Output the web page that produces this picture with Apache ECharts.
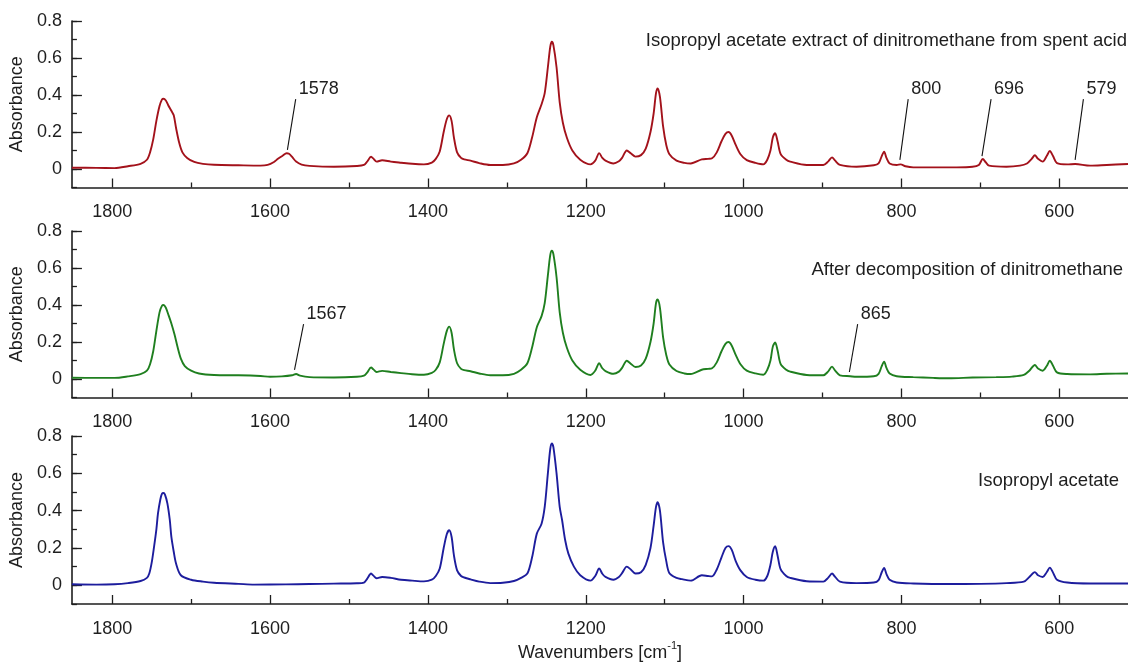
<!DOCTYPE html>
<html>
<head>
<meta charset="utf-8">
<script src="https://cdn.jsdelivr.net/npm/echarts@6/dist/echarts.min.js"></script>
<style>html,body{margin:0;padding:0;background:#fff}#chart{width:1128px;height:663px}</style>
</head>
<body>
<div id="chart"></div>
<script>
// ---- data: [wavenumber (cm-1), absorbance] ----
const spentAcidExtract = [[1851,0.007],[1820,0.006],[1797,0.005],[1780,0.015],[1764,0.028],[1756,0.05],[1752,0.09],[1748,0.16],[1744,0.26],[1740,0.34],[1737,0.375],[1735,0.38],[1732,0.37],[1729,0.345],[1725,0.315],[1722,0.29],[1719,0.22],[1715,0.14],[1711,0.09],[1705,0.06],[1696,0.038],[1685,0.028],[1671,0.023],[1640,0.02],[1612,0.018],[1603,0.022],[1595,0.038],[1590,0.055],[1584,0.072],[1579,0.085],[1576,0.082],[1572,0.065],[1567,0.04],[1560,0.024],[1550,0.017],[1519,0.012],[1490,0.016],[1481,0.022],[1477,0.04],[1472,0.066],[1469,0.056],[1465,0.04],[1458,0.047],[1447,0.04],[1434,0.034],[1420,0.028],[1405,0.025],[1395,0.035],[1390,0.055],[1385,0.095],[1380,0.2],[1376,0.27],[1373,0.29],[1370,0.26],[1367,0.17],[1363,0.09],[1358,0.06],[1354,0.052],[1346,0.045],[1335,0.032],[1321,0.022],[1305,0.022],[1291,0.03],[1282,0.05],[1274,0.085],[1268,0.17],[1262,0.28],[1256,0.35],[1252,0.41],[1248,0.55],[1245,0.66],[1243,0.688],[1241,0.67],[1237,0.55],[1233,0.36],[1229,0.25],[1224,0.17],[1217,0.1],[1207,0.05],[1194,0.025],[1188,0.045],[1183,0.086],[1179,0.06],[1175,0.045],[1165,0.03],[1158,0.042],[1154,0.06],[1148,0.1],[1143,0.085],[1137,0.067],[1130,0.075],[1124,0.11],[1118,0.2],[1114,0.3],[1111,0.41],[1109,0.436],[1106,0.39],[1102,0.23],[1098,0.13],[1094,0.08],[1085,0.045],[1075,0.033],[1067,0.03],[1053,0.052],[1045,0.055],[1040,0.058],[1034,0.09],[1028,0.15],[1023,0.19],[1019,0.2],[1015,0.18],[1010,0.13],[1004,0.08],[996,0.048],[985,0.033],[975,0.025],[970,0.05],[966,0.1],[963,0.17],[960,0.193],[957,0.15],[953,0.08],[946,0.05],[941,0.04],[920,0.022],[899,0.022],[893,0.04],[888,0.063],[884,0.045],[878,0.022],[857,0.012],[835,0.02],[829,0.03],[825,0.07],[822,0.094],[819,0.06],[815,0.03],[806,0.022],[801,0.025],[795,0.015],[785,0.009],[730,0.009],[710,0.012],[702,0.022],[697,0.054],[693,0.035],[689,0.018],[667,0.012],[650,0.018],[641,0.03],[635,0.055],[631,0.074],[627,0.055],[621,0.04],[616,0.07],[612,0.097],[608,0.07],[603,0.032],[590,0.025],[580,0.027],[561,0.018],[540,0.022],[513,0.027]];

const afterDecomposition = [[1851,0.007],[1820,0.006],[1797,0.006],[1780,0.014],[1764,0.026],[1756,0.045],[1752,0.08],[1748,0.15],[1744,0.26],[1740,0.36],[1737,0.395],[1735,0.40],[1732,0.385],[1729,0.35],[1725,0.3],[1721,0.24],[1717,0.17],[1713,0.11],[1708,0.07],[1700,0.045],[1690,0.03],[1671,0.022],[1640,0.02],[1612,0.016],[1600,0.012],[1585,0.014],[1572,0.02],[1567,0.027],[1562,0.018],[1550,0.01],[1519,0.008],[1490,0.012],[1481,0.018],[1477,0.035],[1472,0.062],[1469,0.052],[1465,0.038],[1458,0.044],[1447,0.038],[1434,0.032],[1420,0.026],[1405,0.023],[1395,0.033],[1390,0.05],[1385,0.09],[1380,0.19],[1376,0.26],[1373,0.283],[1370,0.25],[1367,0.16],[1363,0.085],[1358,0.055],[1354,0.048],[1346,0.042],[1335,0.03],[1321,0.02],[1305,0.02],[1291,0.028],[1282,0.05],[1274,0.085],[1268,0.17],[1262,0.28],[1256,0.34],[1252,0.41],[1248,0.56],[1245,0.67],[1243,0.694],[1241,0.675],[1237,0.55],[1233,0.36],[1229,0.25],[1224,0.17],[1217,0.1],[1207,0.05],[1194,0.022],[1188,0.045],[1183,0.085],[1179,0.058],[1175,0.043],[1165,0.028],[1158,0.04],[1154,0.06],[1148,0.099],[1143,0.083],[1137,0.065],[1130,0.073],[1124,0.11],[1118,0.2],[1114,0.3],[1111,0.41],[1109,0.43],[1106,0.385],[1102,0.225],[1098,0.13],[1094,0.078],[1085,0.043],[1075,0.03],[1067,0.027],[1053,0.05],[1045,0.055],[1040,0.058],[1034,0.09],[1028,0.15],[1023,0.19],[1019,0.2],[1015,0.18],[1010,0.13],[1004,0.08],[996,0.045],[985,0.03],[975,0.023],[970,0.05],[966,0.1],[963,0.175],[960,0.198],[957,0.155],[953,0.08],[946,0.05],[941,0.04],[920,0.022],[899,0.02],[893,0.04],[888,0.067],[884,0.045],[878,0.02],[865,0.015],[857,0.012],[835,0.015],[829,0.028],[825,0.07],[822,0.094],[819,0.06],[815,0.03],[806,0.015],[785,0.01],[760,0.006],[740,0.004],[710,0.008],[680,0.01],[660,0.013],[645,0.022],[638,0.045],[631,0.076],[627,0.057],[621,0.045],[616,0.07],[612,0.099],[608,0.072],[603,0.036],[590,0.027],[561,0.025],[540,0.028],[513,0.03]];

const isopropylAcetate = [[1851,0.006],[1820,0.004],[1797,0.006],[1780,0.012],[1764,0.023],[1756,0.04],[1753,0.063],[1750,0.12],[1747,0.205],[1744,0.3],[1742,0.384],[1739,0.46],[1737,0.49],[1735,0.495],[1733,0.485],[1730,0.438],[1727,0.35],[1725,0.259],[1722,0.18],[1719,0.116],[1713,0.054],[1700,0.03],[1685,0.02],[1671,0.014],[1640,0.008],[1620,0.004],[1580,0.005],[1550,0.007],[1519,0.009],[1490,0.011],[1481,0.015],[1477,0.035],[1472,0.063],[1469,0.052],[1465,0.038],[1458,0.045],[1447,0.04],[1434,0.03],[1420,0.025],[1405,0.021],[1395,0.03],[1390,0.05],[1385,0.09],[1380,0.2],[1376,0.275],[1373,0.295],[1370,0.26],[1367,0.16],[1363,0.08],[1358,0.05],[1354,0.042],[1346,0.032],[1335,0.02],[1321,0.012],[1305,0.014],[1291,0.023],[1282,0.04],[1274,0.063],[1268,0.15],[1262,0.277],[1256,0.33],[1252,0.42],[1248,0.6],[1245,0.73],[1243,0.76],[1241,0.74],[1237,0.6],[1233,0.42],[1230,0.35],[1226,0.24],[1222,0.17],[1215,0.1],[1207,0.054],[1194,0.025],[1188,0.05],[1183,0.09],[1179,0.062],[1175,0.045],[1165,0.03],[1158,0.045],[1154,0.065],[1148,0.1],[1143,0.085],[1137,0.063],[1130,0.07],[1124,0.11],[1118,0.2],[1114,0.32],[1111,0.42],[1109,0.446],[1106,0.4],[1102,0.23],[1098,0.13],[1094,0.065],[1085,0.04],[1078,0.033],[1067,0.025],[1053,0.054],[1045,0.05],[1040,0.048],[1034,0.085],[1028,0.15],[1023,0.2],[1019,0.21],[1015,0.19],[1010,0.13],[1004,0.08],[996,0.045],[985,0.03],[975,0.025],[970,0.05],[966,0.11],[963,0.18],[960,0.209],[957,0.16],[953,0.085],[946,0.05],[941,0.04],[920,0.022],[899,0.02],[893,0.04],[888,0.063],[884,0.045],[878,0.02],[857,0.012],[835,0.015],[829,0.028],[825,0.07],[822,0.093],[819,0.06],[815,0.03],[806,0.015],[785,0.01],[740,0.007],[700,0.008],[667,0.012],[645,0.02],[638,0.045],[631,0.071],[627,0.054],[621,0.045],[616,0.07],[612,0.095],[608,0.068],[603,0.03],[590,0.015],[561,0.01],[540,0.01],[513,0.01]];

const panelTitles = ['Isopropyl acetate extract of dinitromethane from spent acid', 'After decomposition of dinitromethane', 'Isopropyl acetate'];

// peak annotations: [label, peak wavenumber, absorbance at line foot, wavenumber at line top, absorbance at line top]
const annotationsSpent = [['1578',1578,0.103,1567.5,0.378],['800',802,0.049,791.5,0.378],['696',698,0.07,686.5,0.378],['579',580,0.049,569.5,0.378]];
const annotationsAfter = [['1567',1569,0.049,1557.5,0.297],['865',866,0.038,855.5,0.297]];
const annotationsIso = [];

const xMajorTicks = [1800,1600,1400,1200,1000,800,600];
const xMinorTicks = [1700,1500,1300,1100,900,700];
const yTickLabels = [0,0.2,0.4,0.6,0.8];
const xRange = [513, 1851];
const yRange = [-0.1, 0.8];

// ---- chart ----
const FONT = 'Liberation Sans';
const FS = 18;
const TXT = '#1e1e1e';
const panels = [
  {data: spentAcidExtract, color: '#a3121b', ann: annotationsSpent},
  {data: afterDecomposition, color: '#1f7f1f', ann: annotationsAfter},
  {data: isopropylAcetate, color: '#1d1d9d', ann: annotationsIso}
];
const gridTops = [21, 231, 436];
const gridHeights = [166.5, 166.5, 168];
const titleTops = [31, 260, 471];
const titleRights = [1, 5, 9];

const grid = [], xAxis = [], yAxis = [], series = [], title = [];
const axisLineStyle = {color: TXT, width: 1.6};
panels.forEach((p, i) => {
  grid.push({left: 71, right: 0, top: gridTops[i], height: gridHeights[i]});
  const main = {
    gridIndex: i, type: 'value', inverse: true, min: xRange[0], max: xRange[1], position: 'bottom',
    axisLine: {show: true, onZero: false, lineStyle: axisLineStyle},
    axisTick: {show: true, inside: true, length: 9, customValues: xMajorTicks, lineStyle: {color: TXT, width: 1.3}},
    axisLabel: {customValues: xMajorTicks, fontSize: FS, fontFamily: FONT, color: TXT, margin: 16,
      formatter: v => String(v)},
    splitLine: {show: false}
  };
  if (i === 2) {
    main.name = '{a|Wavenumbers [cm}{s|-1}{a|]}';
    main.nameLocation = 'middle';
    main.nameGap = 36;
    main.nameTextStyle = {
      rich: {
        a: {fontSize: FS, fontFamily: FONT, color: TXT, lineHeight: 22, verticalAlign: 'bottom'},
        s: {fontSize: 11, fontFamily: FONT, color: TXT, lineHeight: 22, verticalAlign: 'top'}
      }
    };
  }
  xAxis.push(main);
  xAxis.push({
    gridIndex: i, type: 'value', inverse: true, min: xRange[0], max: xRange[1], position: 'bottom',
    axisLine: {show: false, onZero: false},
    axisTick: {show: true, inside: true, length: 5, customValues: xMinorTicks, lineStyle: {color: TXT, width: 1.3}},
    axisLabel: {show: false}, splitLine: {show: false}
  });
  yAxis.push({
    gridIndex: i, type: 'value', min: yRange[0], max: yRange[1], interval: 0.1, position: 'left',
    axisLine: {show: true, onZero: false, lineStyle: axisLineStyle},
    axisTick: {show: true, inside: true, length: 5, lineStyle: {color: TXT, width: 1.3}},
    axisLabel: {customValues: yTickLabels, fontSize: FS, fontFamily: FONT, color: TXT, margin: 10,
      formatter: v => (Math.abs(v) < 1e-9 ? '0' : v.toFixed(1))},
    splitLine: {show: false},
    name: 'Absorbance', nameLocation: 'middle', nameGap: 42,
    nameTextStyle: {fontSize: FS, fontFamily: FONT, color: TXT}
  });
  yAxis.push({
    gridIndex: i, type: 'value', min: yRange[0], max: yRange[1], position: 'left',
    axisLine: {show: false, onZero: false},
    axisTick: {show: true, inside: true, length: 10, customValues: yTickLabels, lineStyle: {color: TXT, width: 1.3}},
    axisLabel: {show: false}, splitLine: {show: false}
  });
  series.push({
    type: 'line', xAxisIndex: 2 * i, yAxisIndex: 2 * i, data: p.data,
    showSymbol: false, smooth: 0.3,
    lineStyle: {color: p.color, width: 1.9}, itemStyle: {color: p.color},
    silent: true,
    markLine: {
      silent: true, symbol: ['none', 'none'], animation: false,
      lineStyle: {color: '#111', width: 1.1, type: 'solid'},
      label: {show: false},
      data: p.ann.map(a => [{coord: [a[1], a[2]]}, {coord: [a[3], a[4]]}])
    },
    markPoint: {
      silent: true, symbol: 'circle', symbolSize: 0, animation: false,
      data: p.ann.map(a => ({coord: [a[3], a[4]], value: a[0],
        label: {show: true, position: 'right', distance: 3, offset: [0, -10], formatter: a[0],
          fontSize: FS, fontFamily: FONT, color: TXT}}))
    }
  });
  title.push({text: panelTitles[i], right: titleRights[i], top: titleTops[i], padding: 0,
    textStyle: {fontSize: 18.5, fontWeight: 'normal', fontFamily: FONT, color: TXT}});
});

const chart = echarts.init(document.getElementById('chart'), null, {renderer: 'canvas'});
chart.setOption({animation: false, backgroundColor: '#fff', title, grid, xAxis, yAxis, series});
</script>
</body>
</html>
